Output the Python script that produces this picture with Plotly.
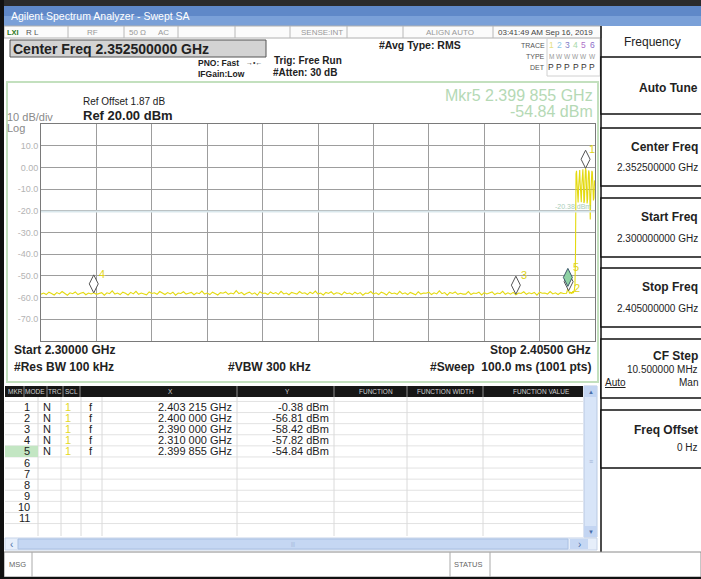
import numpy as np
import plotly.graph_objects as go

# ---------------- data ----------------
start_ghz, stop_ghz = 2.300, 2.405
ref_dbm, div_db = 20.0, 10.0

# noise floor trace, 2.3000 .. 2.3995 GHz (0.5 MHz steps)
floor_dbm = [
    -58.4, -57.9, -58.6, -57.5, -58.1, -58.8, -57.7, -58.3, -57.2, -58.0, -58.9, -57.8, -58.2, -57.4, -58.6, -58.0, -57.6, -58.7, -57.9, -58.3,
    -57.8, -58.5, -58.1, -57.7, -58.9, -57.8, -58.2, -56.9, -58.4, -57.9, -58.6, -57.5, -58.0, -58.8, -57.6, -58.3, -57.1, -58.5, -57.9, -58.2,
    -58.7, -57.4, -58.1, -57.8, -58.5, -57.2, -58.0, -58.6, -57.7, -58.3, -57.5, -58.9, -57.9, -58.1, -57.3, -58.4, -58.0, -57.6, -58.7, -57.8,
    -58.2, -57.0, -58.4, -57.9, -58.6, -57.5, -58.1, -58.8, -57.7, -58.0, -57.4, -58.5, -57.9, -58.3, -56.8, -58.2, -57.6, -58.7, -58.0, -57.5,
    -58.4, -57.8, -58.9, -57.3, -58.1, -57.9, -58.6, -57.4, -58.2, -57.7, -58.5, -57.1, -58.3, -57.9, -58.7, -57.6, -58.0, -58.4, -57.2, -58.1,
    -57.8, -58.6, -57.5, -58.2, -57.0, -58.4, -57.9, -58.8, -57.6, -58.1, -57.3, -58.5, -57.8, -58.0, -58.7, -57.4, -58.2, -57.9, -58.6, -57.5,
    -58.3, -57.7, -58.9, -57.9, -58.1, -57.2, -58.4, -57.8, -58.6, -57.5, -58.0, -58.8, -57.4, -58.2, -57.9, -58.5, -57.1, -58.3, -57.8, -58.6,
    -57.6, -58.1, -58.7, -57.3, -58.4, -57.9, -58.0, -57.5, -58.6, -57.8, -58.3, -56.9, -58.2, -57.7, -58.9, -57.6, -58.1, -57.4, -58.5, -58.0,
    -58.4, -58.4, -57.2, -58.6, -57.9, -58.1, -57.5, -58.8, -57.7, -58.3, -58.0, -57.4, -58.6, -57.9, -58.2, -57.1, -58.5, -57.8, -58.4, -57.6,
    -58.7, -57.9, -58.1, -57.3, -58.5, -57.8, -58.2, -57.6, -58.9, -57.5, -58.0, -57.9, -58.4, -57.2, -58.3, -57.8, -58.6, -57.7, -58.1, -57.9,
]
# band edge + in-band signal, 2.3996 .. 2.4050 GHz (0.1 MHz steps)
edge_dbm = [
    -58.0, -57.3, -56.0, -54.8, -56.8, -57.6, -58.2, -57.4, -58.0, -57.5,
    -58.3, -57.6, -57.0, -57.9, -57.2, -56.4, -54.0, -40.5, -3.0, -1.6,
    -7.5, -15.5, -16.2, -9.0, -2.0, -1.2, -8.0, -15.8, -16.0, -8.5,
    -1.8, -0.9, -7.0, -16.4, -15.5, -6.5, -0.38, -1.5, -9.5, -16.6,
    -14.8, -6.0, -1.4, -2.5, -12.0, -24.0, -13.5, -4.0, -1.6, -2.2,
    -9.0, -15.2, -14.0, -6.0, -8.5,
]
floor_freq = np.linspace(2.3000, 2.3995, len(floor_dbm))
edge_freq = np.linspace(2.3996, 2.4050, len(edge_dbm))

marker_ids = [1, 2, 3, 4, 5]
marker_freq_ghz = [2.403215, 2.400000, 2.390000, 2.310000, 2.399855]
marker_dbm = [-0.38, -56.81, -58.42, -57.82, -54.84]
active_marker = 5
display_line_dbm = -20.38

y_tick_vals = [10, 0, -10, -20, -30, -40, -50, -60, -70]
y_tick_text = ["10.0", "0.00", "-10.0", "-20.0", "-30.0", "-40.0", "-50.0", "-60.0", "-70.0"]

softkeys = [
    ("Auto Tune", None),
    ("Center Freq", "2.352500000 GHz"),
    ("Start Freq", "2.300000000 GHz"),
    ("Stop Freq", "2.405000000 GHz"),
    ("CF Step", "10.500000 MHz"),
    ("Freq Offset", "0 Hz"),
]

# ---------------- figure ----------------
W, H = 701, 579
FONT = "Liberation Sans"
PL, PR, PT, PB = 41, 595, 124, 341   # graticule box, pixels
KR = 699                              # right edge for soft-key texts


def X(px):
    return px / W


def Y(py):
    return 1 - py / H


fig = go.Figure()

freq_all = np.concatenate([floor_freq, edge_freq])
dbm_all = np.concatenate([floor_dbm, edge_dbm])
fig.add_trace(go.Scatter(x=freq_all, y=dbm_all, mode="lines",
                         line=dict(color="#e4da10", width=1.1),
                         hoverinfo="skip", showlegend=False))


def text(px, py, s, size=10, color="#222222", anchor="left", family=FONT):
    fig.add_annotation(x=X(px), y=Y(py), xref="paper", yref="paper", text=s,
                       showarrow=False, xanchor=anchor, yanchor="middle",
                       borderpad=0, font=dict(size=size, color=color, family=family))


def rect(x0, y0, x1, y1, fill=None, line=None, lw=1, layer="above"):
    fig.add_shape(type="rect", xref="paper", yref="paper",
                  x0=X(x0), x1=X(x1), y0=Y(y1), y1=Y(y0),
                  fillcolor=fill if fill else "rgba(0,0,0,0)",
                  line=dict(color=line if line else "rgba(0,0,0,0)", width=lw if line else 0),
                  layer=layer)


def seg(x0, y0, x1, y1, color="#888", lw=1):
    fig.add_shape(type="line", xref="paper", yref="paper",
                  x0=X(x0), x1=X(x1), y0=Y(y0), y1=Y(y1),
                  line=dict(color=color, width=lw))


# outer frame + title bar
rect(0, 0, 701, 6, fill="#2b2b2b")
rect(4, 6, 701, 16, fill="#5f88c8", layer="below")
rect(4, 16, 701, 26, fill="#7aa0d8", layer="below")
text(10, 16, "Agilent Spectrum Analyzer - Swept SA", 10.5, "#ffffff")

# status row
rect(4, 26, 601, 38, fill="#fbfbfb", line="#b0b0b0")
for sx in [68, 124, 178, 235, 290, 347, 403, 493]:
    seg(sx, 26, sx, 38, "#b8b8b8", 1)
text(6, 32, "<b>LXI</b>", 7.5, "#2c7a1c")
text(25, 32, "R L", 8, "#555555")
text(92, 32, "RF", 8, "#999999", "center")
text(128, 32, "50 Ω", 8, "#999999")
text(157, 32, "AC", 8, "#999999")
text(344, 32, "SENSE:INT", 8, "#999999", "right")
text(450, 32, "ALIGN AUTO", 8, "#999999", "center")
text(497, 32, "03:41:49 AM Sep 16, 2019", 8, "#444444")

# header info
rect(10, 40, 266, 57, fill="#d3d3d3", line="#555555", lw=1)
text(12, 48.5, "<b>Center Freq 2.352500000 GHz</b>", 14, "#222222")
text(197, 63, "<b>PNO: Fast</b>", 8.5, "#222222")
text(245, 63, "→•←", 7, "#333333")
text(197, 74, "<b>IFGain:Low</b>", 8.5, "#222222")
text(273, 60, "<b>Trig: Free Run</b>", 10, "#222222")
text(272, 72, "<b>#Atten: 30 dB</b>", 10, "#222222")
text(378, 45, "<b>#Avg Type: RMS</b>", 10.5, "#222222")
rect(547, 38, 600, 76, line="#d0d0d0")
text(546, 45, "TRACE", 7, "#555555", "right")
text(546, 56, "TYPE", 7, "#555555", "right")
text(546, 67, "DET", 7, "#555555", "right")
trace_cols = ["#e6e080", "#8cc8e8", "#7c7cc8", "#a8d8a8", "#b070c8", "#8a6cc8"]
for k in range(6):
    cx = 551 + k * 8.2
    text(cx, 45, str(k + 1), 8.5, trace_cols[k], "center")
    text(cx, 56, "M" if k == 0 else "W", 6.5, "#999999", "center")
    text(cx, 67, "P", 8.5, "#333333", "center")

# right soft-key panel
seg(601, 26, 601, 553, "#111111", 1.5)
seg(601, 553, 701, 553, "#111111", 1.5)
text(652, 42, "Frequency", 12, "#222222", "center")
box_tops = [57, 128, 198, 268, 339, 410]
box_bots = [114, 186, 257, 327, 398, 468]
for (label, value), t, b in zip(softkeys, box_tops, box_bots):
    rect(601, t, 708, b, fill="#ffffff", line="#111111", lw=1.5)
    if value is None:
        text(KR, (t + b) / 2 + 2, "<b>" + label + "</b>", 12, "#222222", "right")
    elif label == "CF Step":
        text(KR, t + 17, "<b>" + label + "</b>", 12, "#222222", "right")
        text(KR, t + 30, value, 10, "#222222", "right")
        text(604, t + 43, "<u>Auto</u>", 10, "#222222")
        text(KR, t + 43, "Man", 10, "#222222", "right")
    elif label == "Freq Offset":
        text(KR, t + 20, "<b>" + label + "</b>", 12, "#222222", "right")
        text(KR, t + 37, value, 10, "#222222", "right")
    else:
        text(KR, t + 19, "<b>" + label + "</b>", 12, "#222222", "right")
        text(KR, t + 40, value, 10, "#222222", "right")

# display window
rect(7, 82, 598, 382, line="#c3e0be", lw=2)
text(594, 95, "Mkr5 2.399 855 GHz", 16, "#b5d9b5", "right")
text(594, 112, "-54.84 dBm", 16, "#b5d9b5", "right")
text(82, 102, "Ref Offset 1.87 dB", 10, "#222222")
text(82, 115, "<b>Ref 20.00 dBm</b>", 13, "#222222")
text(6, 117, "10 dB/div", 11, "#8a8a8a")
text(6, 128, "Log", 11, "#8a8a8a")
text(592, 206, "-20.38 dBm", 7, "#a9cdb9", "right")
text(13, 350, "<b>Start 2.30000 GHz</b>", 12, "#222222")
text(13, 367, "<b>#Res BW 100 kHz</b>", 12, "#222222")
text(227, 367, "<b>#VBW 300 kHz</b>", 12, "#222222")
text(592, 350, "<b>Stop 2.40500 GHz</b>", 12, "#222222", "right")
text(592, 367, "<b>#Sweep  100.0 ms (1001 pts)</b>", 12, "#222222", "right")

# display line
fig.add_shape(type="line", xref="x", yref="y", x0=start_ghz, x1=stop_ghz,
              y0=display_line_dbm, y1=display_line_dbm,
              line=dict(color="#d9e7ec", width=2))

# marker diamonds (drawn so the active marker is on top)
label_yshift = {1: 19, 2: 3, 3: 19, 4: 19, 5: 19}
order = [i for i in range(len(marker_ids)) if marker_ids[i] != active_marker] + \
        [i for i in range(len(marker_ids)) if marker_ids[i] == active_marker]
for i in order:
    act = marker_ids[i] == active_marker
    fig.add_shape(type="path", xref="x", yref="y", xsizemode="pixel", ysizemode="pixel",
                  xanchor=marker_freq_ghz[i], yanchor=marker_dbm[i],
                  path="M0,0 L4.5,9 L0,18 L-4.5,9 Z",
                  fillcolor="#8fd2a4" if act else "#ffffff",
                  line=dict(color="#3d5a6a" if act else "#555555", width=1))
    fig.add_annotation(x=marker_freq_ghz[i], y=marker_dbm[i], xref="x", yref="y",
                       text=str(marker_ids[i]), showarrow=False, xshift=8 if marker_ids[i] != 1 else 6,
                       yshift=label_yshift[marker_ids[i]],
                       font=dict(size=11, color="#e0d418", family=FONT))

# marker table
rect(5, 386, 583, 397, fill="#161616")
hdr = [("MKR", 15), ("MODE", 35), ("TRC", 55), ("SCL", 71), ("X", 170), ("Y", 287),
       ("FUNCTION", 376), ("FUNCTION WIDTH", 445), ("FUNCTION VALUE", 541)]
for h, hx in hdr:
    text(hx, 391.5, h, 6.5, "#d0d0d0", "center")
for sx in [24, 47, 63, 80, 237, 334, 407, 483]:
    seg(sx, 386, sx, 397, "#8a8a8a", 1)
row_h = 11.1
row0 = 407
for r in range(12):
    yy = row0 - row_h / 2 + r * row_h
    seg(5, yy, 583, yy, "#e2e2e2", 1)
for sx in [38, 61, 81, 102, 237, 334, 407, 483]:
    seg(sx, 397, sx, 536, "#dadada", 1)
ai = marker_ids.index(active_marker)
rect(5, row0 - row_h / 2 + ai * row_h, 38, row0 + row_h / 2 + ai * row_h, fill="#c3e6c3")
for r in range(11):
    yy = row0 + r * row_h
    text(31, yy, str(r + 1), 11, "#222222", "right")
    if r < len(marker_ids):
        fs = f"{marker_freq_ghz[r]:.6f}"
        text(47, yy, "N", 11, "#222222", "center")
        text(68, yy, "1", 11, "#e4d81c", "center")
        text(91, yy, "f", 11, "#222222", "center")
        text(233, yy, fs[:5] + " " + fs[5:] + " GHz", 11, "#222222", "right")
        text(330, yy, f"{marker_dbm[r]:.2f} dBm", 11, "#222222", "right")

# scrollbars
rect(584, 386, 597, 537, fill="#d8e5f8", line="#b9c9e2")
rect(584, 386, 597, 397, fill="#c3d5f2")
rect(584, 526, 597, 537, fill="#c3d5f2")
text(590.5, 391.5, "▲", 6, "#4a6ea8", "center")
text(590.5, 531.5, "▼", 6, "#4a6ea8", "center")
text(590.5, 461, "≡", 7, "#9fb3d6", "center")
rect(5, 538, 597, 550, fill="#e6eefa", line="#c6d3e8")
rect(18, 539, 568, 549, fill="#c5d7f3", line="#aac0e2")
text(11, 544, "‹", 10, "#4a6ea8", "center")
rect(570, 539, 588, 549, fill="#c5d7f3")
text(579, 544, "›", 10, "#4a6ea8", "center")
text(293, 544, "|||", 5, "#9fb3d6", "center")

# message row
rect(4, 552, 701, 577, fill="#ffffff", line="#8a8a8a")
seg(32, 552, 32, 577, "#aaaaaa", 1)
seg(450, 552, 450, 577, "#aaaaaa", 1)
seg(490, 552, 490, 577, "#aaaaaa", 1)
text(8, 564.5, "MSG", 7.5, "#666666")
text(453, 564.5, "STATUS", 7.5, "#666666")

# outer dark edges
rect(0, 0, 4, 579, fill="#111111")
rect(0, 577, 701, 579, fill="#111111")

fig.update_layout(
    width=W, height=H, autosize=False,
    margin=dict(l=0, r=0, t=0, b=0),
    paper_bgcolor="#ffffff", plot_bgcolor="#ffffff",
    font=dict(family=FONT),
    showlegend=False,
    xaxis=dict(domain=[X(PL), X(PR)], range=[start_ghz, stop_ghz],
               tickvals=[start_ghz + k * (stop_ghz - start_ghz) / 10 for k in range(11)],
               showticklabels=False, ticks="", showgrid=True, gridcolor="#9d9d9d", gridwidth=1,
               zeroline=False, showline=True, linecolor="#7a7a7a", linewidth=1, mirror=True,
               fixedrange=True),
    yaxis=dict(domain=[Y(PB), Y(PT)], range=[ref_dbm - 10 * div_db, ref_dbm],
               tickvals=y_tick_vals, ticktext=y_tick_text, ticks="",
               tickfont=dict(size=9, color="#b3b3b3", family=FONT),
               showgrid=True, gridcolor="#9d9d9d", gridwidth=1,
               zeroline=False, showline=True, linecolor="#7a7a7a", linewidth=1, mirror=True,
               fixedrange=True),
)

fig.write_html("out.html", config={"displayModeBar": False},
               post_script="document.body.style.margin='0';document.body.style.overflow='hidden';")
